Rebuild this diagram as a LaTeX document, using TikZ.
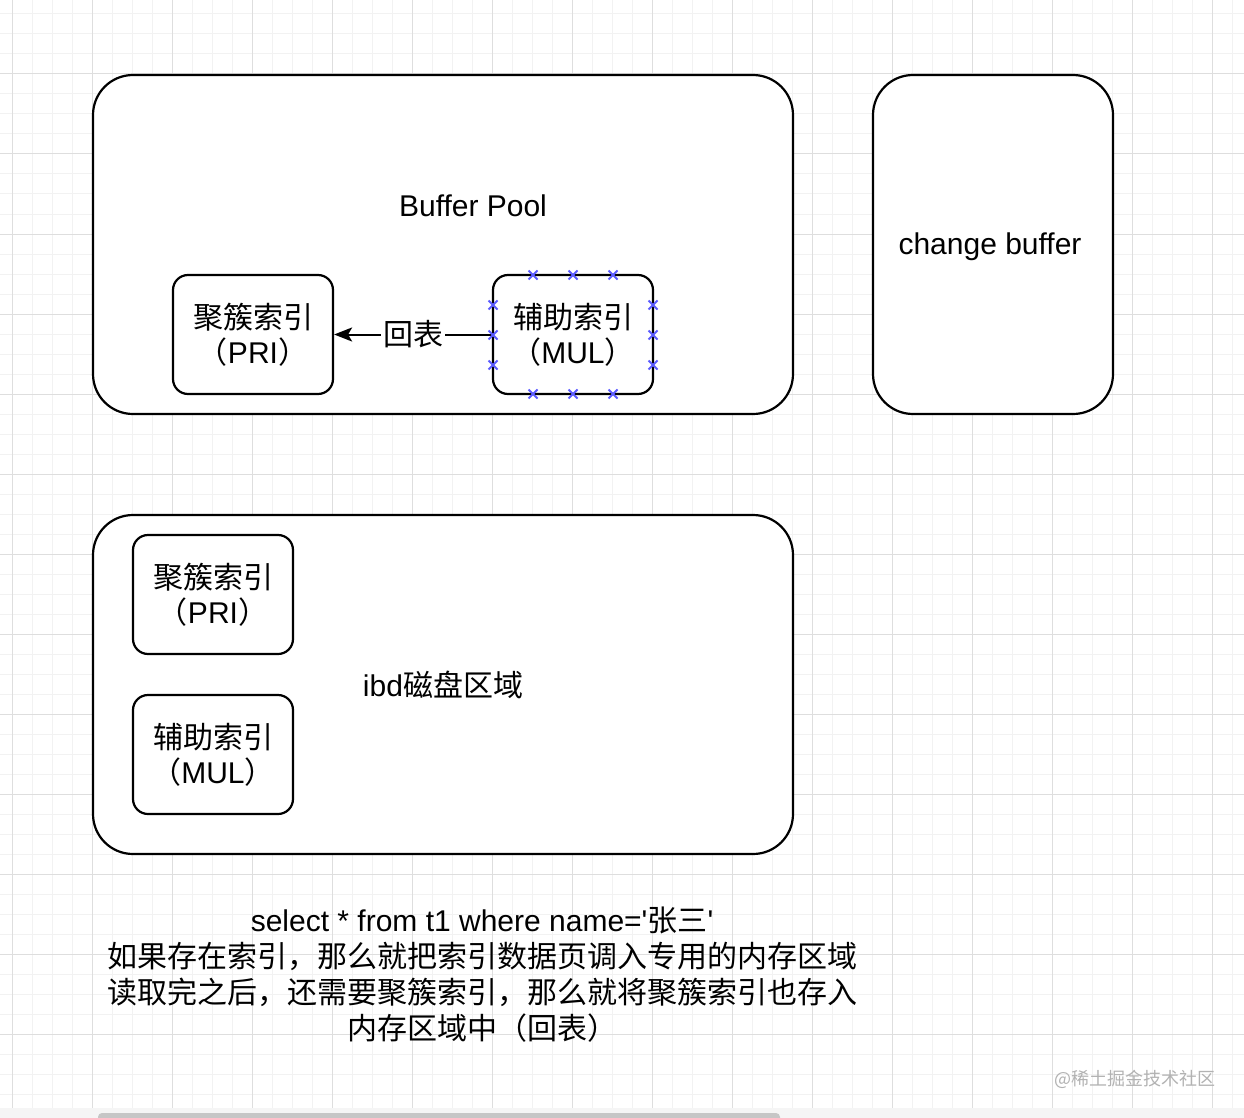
\documentclass[tikz,border=0pt]{standalone}
\usepackage{fontspec}
\setmainfont{Liberation Sans}[Ligatures=TeXOff]
\newfontfamily\cjk{Noto Sans CJK SC}
\usetikzlibrary{arrows.meta}
\definecolor{gridminor}{HTML}{F2F2F2}
\definecolor{gridmajor}{HTML}{DEDEDE}
\definecolor{markblue}{HTML}{5C5CFF}
\begin{document}
\begin{tikzpicture}[x=1pt,y=-1pt,
  minorline/.style={gridminor, line width=1pt},
  majorline/.style={gridmajor, line width=1pt},
  bigbox/.style={draw=black, fill=white, line width=2.2pt, rounded corners=40pt, inner sep=0pt},
  smallbox/.style={draw=black, fill=white, line width=2.2pt, rounded corners=15pt, inner sep=0pt,
    minimum width=160pt, minimum height=119pt, align=center, font=\fontsize{30}{35}\selectfont},
  lbl/.style={font=\fontsize{30}{36}\selectfont, inner sep=0pt},
  xmark/.style={markblue, line width=1.8pt}
]
\useasboundingbox (0,0) rectangle (1244,1118);
\fill[white] (0,0) rectangle (1244,1118);
% grid
\foreach \x in {12,32,...,1232} \draw[minorline] (\x,0) -- (\x,1108);
\foreach \y in {14,34,...,1094} \draw[minorline] (0,\y) -- (1244,\y);
\foreach \x in {12,92,...,1232} \draw[majorline] (\x,0) -- (\x,1108);
\foreach \y in {74,154,...,1034} \draw[majorline] (0,\y) -- (1244,\y);
% scrollbar
\fill[gray!8] (0,1108) rectangle (1244,1118);
\fill[gray!45, rounded corners=4pt] (98,1113) rectangle (780,1124);

% Buffer pool
\node[bigbox, minimum width=700pt, minimum height=339pt] (bp) at (443,244.5) {};
\node[lbl] (bplabel) at (473,206) {Buffer Pool};
\node[bigbox, minimum width=240pt, minimum height=339pt] (cb) at (993,244.5) {};
\node[lbl] (cblabel) at (990,247) {change buffer};

\node[smallbox] (pri) at (253,334.5) {{\cjk 聚簇索引}\\{\cjk （}PRI{\cjk ）}};
\node[smallbox] (mul) at (573,334.5) {{\cjk 辅助索引}\\{\cjk （}MUL{\cjk ）}};
\draw[line width=2pt, -{Stealth[length=18pt,width=14pt,inset=4pt]}] (mul.west) -- node[fill=white, inner sep=2pt, font=\fontsize{30}{36}\selectfont\cjk] (ht) {回表} (pri.east);

\foreach \p in {(533,275),(573,275),(613,275),(533,394),(573,394),(613,394),(493,305),(493,335),(493,365),(653,305),(653,335),(653,365)}{
  \draw[xmark] \p ++(-4.5,-4.5) -- ++(9,9) \p ++(-4.5,4.5) -- ++(9,-9);
}

% ibd
\node[bigbox, minimum width=700pt, minimum height=339pt] (ibd) at (443,684.5) {};
\node[lbl] (ibdlabel) at (443,685) {ibd{\cjk 磁盘区域}};
\node[smallbox] (pri2) at (213,594.5) {{\cjk 聚簇索引}\\{\cjk （}PRI{\cjk ）}};
\node[smallbox] (mul2) at (213,754.5) {{\cjk 辅助索引}\\{\cjk （}MUL{\cjk ）}};

% bottom text
\node[align=center, inner sep=0pt, font=\fontsize{30}{36}\selectfont] (note) at (482,975) {select * from t1 where name='{\cjk 张三}'\\
{\cjk 如果存在索引，那么就把索引数据页调入专用的内存区域}\\
{\cjk 读取完之后，还需要聚簇索引，那么就将聚簇索引也存入}\\
{\cjk 内存区域中（回表）}};

% watermark
\node[text=gray!60, font=\fontsize{18}{20}\selectfont\cjk, inner sep=0pt] (wm) at (1135,1079) {@稀土掘金技术社区};
\end{tikzpicture}
\end{document}
